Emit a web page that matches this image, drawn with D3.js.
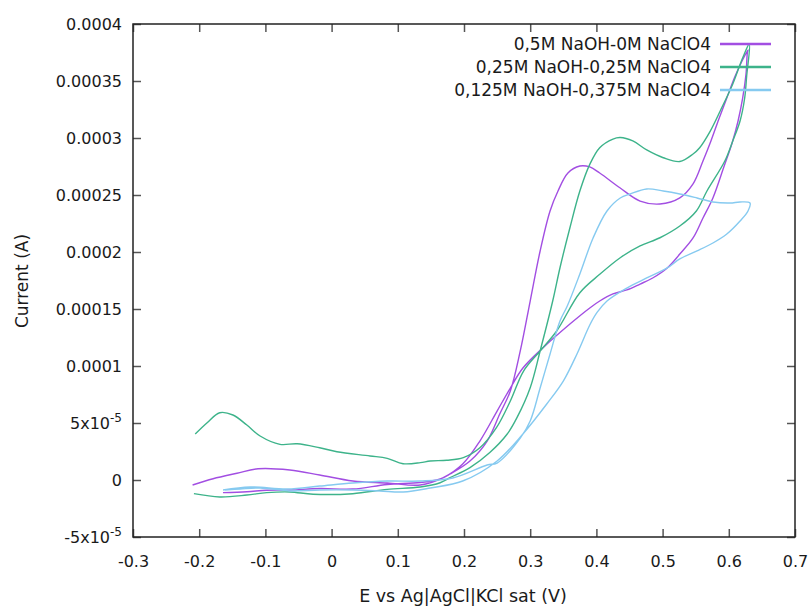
<!DOCTYPE html>
<html>
<head>
<meta charset="utf-8">
<script src="https://cdn.jsdelivr.net/npm/d3@7"></script>
<style>
  body { margin: 0; background: #fff; }
  text { font-family: "DejaVu Sans", sans-serif; fill: #1a1a1a; }
</style>
</head>
<body>
<div id="chart"></div>
<script>
  // series: E (V) and current (A)
  var seriesNames = ["0,5M NaOH-0M NaClO4", "0,25M NaOH-0,25M NaClO4", "0,125M NaOH-0,375M NaClO4"];
  var seriesColors = ["#a24ee2", "#3db38a", "#86caf0"];

  var e05 = [-0.164, -0.128, -0.098, -0.063, -0.018, 0.032, 0.084, 0.134, 0.164, 0.179, 0.209, 0.235, 0.254, 0.270, 0.285, 0.300, 0.315, 0.330, 0.342, 0.357, 0.375, 0.390, 0.405, 0.436, 0.466, 0.496, 0.526, 0.546, 0.561, 0.573, 0.585, 0.597, 0.609, 0.620, 0.629, 0.628, 0.626, 0.621, 0.614, 0.605, 0.593, 0.576, 0.561, 0.546, 0.526, 0.507, 0.485, 0.466, 0.446, 0.425, 0.405, 0.390, 0.360, 0.319, 0.289, 0.270, 0.250, 0.224, 0.198, 0.168, 0.134, 0.084, 0.032, -0.018, -0.063, -0.111, -0.143, -0.179, -0.210];
  var i05 = [-1.11e-5, -1.03e-5, -0.90e-5, -0.88e-5, -0.75e-5, -0.79e-5, -0.39e-5, -0.22e-5, 0.09e-5, 0.53e-5, 1.67e-5, 3.42e-5, 5.79e-5, 7.81e-5, 11.32e-5, 15.70e-5, 20.09e-5, 23.60e-5, 25.35e-5, 26.93e-5, 27.54e-5, 27.46e-5, 26.93e-5, 25.61e-5, 24.47e-5, 24.21e-5, 24.74e-5, 25.97e-5, 27.98e-5, 29.74e-5, 31.67e-5, 33.51e-5, 35.35e-5, 36.75e-5, 37.72e-5, 37.46e-5, 35.61e-5, 33.51e-5, 31.49e-5, 29.56e-5, 27.54e-5, 24.74e-5, 22.98e-5, 21.23e-5, 19.82e-5, 18.60e-5, 17.72e-5, 17.19e-5, 16.67e-5, 16.32e-5, 15.70e-5, 15.09e-5, 13.68e-5, 11.58e-5, 9.82e-5, 8.07e-5, 6.05e-5, 3.42e-5, 1.40e-5, 0.18e-5, -0.44e-5, -0.26e-5, -0.09e-5, 0.44e-5, 0.88e-5, 0.99e-5, 0.59e-5, 0.11e-5, -0.44e-5];

  var e025 = [-0.208, -0.169, -0.128, -0.098, -0.063, -0.028, 0.032, 0.084, 0.134, 0.164, 0.179, 0.209, 0.239, 0.265, 0.280, 0.300, 0.315, 0.334, 0.345, 0.360, 0.375, 0.390, 0.405, 0.425, 0.436, 0.455, 0.476, 0.501, 0.526, 0.546, 0.556, 0.572, 0.587, 0.606, 0.621, 0.631, 0.627, 0.624, 0.617, 0.606, 0.594, 0.567, 0.551, 0.526, 0.496, 0.466, 0.436, 0.405, 0.375, 0.340, 0.315, 0.290, 0.270, 0.249, 0.224, 0.199, 0.174, 0.149, 0.134, 0.108, 0.084, 0.058, 0.008, -0.018, -0.052, -0.078, -0.108, -0.128, -0.149, -0.169, -0.188, -0.206];
  var i025 = [-1.20e-5, -1.49e-5, -1.32e-5, -1.11e-5, -1.05e-5, -1.25e-5, -1.20e-5, -0.82e-5, -0.61e-5, -0.24e-5, 0.20e-5, 1.08e-5, 2.41e-5, 4.01e-5, 5.47e-5, 8.10e-5, 11.32e-5, 15.70e-5, 18.62e-5, 22.13e-5, 25.35e-5, 27.69e-5, 29.15e-5, 29.91e-5, 30.04e-5, 29.74e-5, 28.95e-5, 28.27e-5, 27.94e-5, 28.60e-5, 29.15e-5, 30.61e-5, 32.37e-5, 34.74e-5, 37.04e-5, 38.25e-5, 35.44e-5, 33.51e-5, 31.49e-5, 29.74e-5, 27.98e-5, 25.35e-5, 23.60e-5, 22.28e-5, 21.25e-5, 20.53e-5, 19.50e-5, 18.04e-5, 16.43e-5, 13.07e-5, 11.32e-5, 9.56e-5, 6.93e-5, 4.59e-5, 2.83e-5, 1.96e-5, 1.73e-5, 1.67e-5, 1.52e-5, 1.43e-5, 1.90e-5, 2.11e-5, 2.48e-5, 2.83e-5, 3.18e-5, 3.13e-5, 3.86e-5, 4.82e-5, 5.70e-5, 5.90e-5, 5.03e-5, 4.04e-5];

  var e0125 = [-0.164, -0.123, -0.067, -0.018, 0.032, 0.084, 0.134, 0.183, 0.235, 0.250, 0.285, 0.300, 0.315, 0.330, 0.345, 0.356, 0.375, 0.395, 0.416, 0.436, 0.451, 0.476, 0.501, 0.526, 0.552, 0.576, 0.602, 0.617, 0.632, 0.629, 0.617, 0.597, 0.576, 0.552, 0.526, 0.507, 0.476, 0.446, 0.416, 0.401, 0.390, 0.371, 0.350, 0.325, 0.289, 0.250, 0.198, 0.149, 0.108, 0.073, 0.032, -0.018, -0.063, -0.108, -0.138, -0.161];
  var i0125 = [-0.88e-5, -0.61e-5, -0.79e-5, -0.53e-5, -0.26e-5, -0.09e-5, -0.09e-5, 0.18e-5, 1.32e-5, 1.49e-5, 3.68e-5, 5.18e-5, 8.07e-5, 11.05e-5, 13.95e-5, 15.26e-5, 18.07e-5, 21.23e-5, 23.60e-5, 24.74e-5, 25.09e-5, 25.53e-5, 25.35e-5, 25.09e-5, 24.74e-5, 24.39e-5, 24.30e-5, 24.39e-5, 24.30e-5, 23.60e-5, 22.72e-5, 21.58e-5, 20.79e-5, 20.09e-5, 19.39e-5, 18.60e-5, 17.72e-5, 16.84e-5, 15.70e-5, 14.70e-5, 13.60e-5, 11.10e-5, 8.68e-5, 6.67e-5, 4.04e-5, 1.67e-5, -0.09e-5, -0.70e-5, -1.05e-5, -0.96e-5, -0.88e-5, -0.88e-5, -0.96e-5, -0.70e-5, -0.79e-5, -0.88e-5];

  var xTicks = [-0.3, -0.2, -0.1, 0, 0.1, 0.2, 0.3, 0.4, 0.5, 0.6, 0.7];
  var xTickLabels = ["-0.3", "-0.2", "-0.1", "0", "0.1", "0.2", "0.3", "0.4", "0.5", "0.6", "0.7"];
  var yTicks = [-5e-5, 0, 5e-5, 1e-4, 1.5e-4, 2e-4, 2.5e-4, 3e-4, 3.5e-4, 4e-4];
  var yTickLabels = ["-5x10^-5", "0", "5x10^-5", "0.0001", "0.00015", "0.0002", "0.00025", "0.0003", "0.00035", "0.0004"];

  var seriesE = [e05, e025, e0125];
  var seriesI = [i05, i025, i0125];

  var svgWidth = 808;
  var svgHeight = 606;
  var margin = { top: 24, right: 13, bottom: 69, left: 133 };
  var width = svgWidth - margin.left - margin.right;
  var height = svgHeight - margin.top - margin.bottom;

  var svg = d3.select("#chart")
    .append("svg")
    .attr("width", svgWidth)
    .attr("height", svgHeight);

  var chartGroup = svg.append("g")
    .attr("transform", `translate(${margin.left}, ${margin.top})`);

  var xScale = d3.scaleLinear().domain([-0.3, 0.7]).range([0, width]);
  var yScale = d3.scaleLinear().domain([-5e-5, 4e-4]).range([height, 0]);

  // axes, ticks pointing inward on all four sides
  var xAxis = d3.axisBottom(xScale).tickValues(xTicks).tickSize(-8).tickSizeOuter(0)
    .tickPadding(19).tickFormat((d, i) => xTickLabels[i]);
  var yAxis = d3.axisLeft(yScale).tickValues(yTicks).tickSize(-8).tickSizeOuter(0)
    .tickPadding(11).tickFormat((d, i) => yTickLabels[i]);

  var gx = chartGroup.append("g").attr("transform", `translate(0, ${height})`).call(xAxis);
  var gy = chartGroup.append("g").call(yAxis);
  var gt = chartGroup.append("g").call(d3.axisTop(xScale).tickValues(xTicks).tickSize(-8).tickSizeOuter(0).tickFormat(""));
  var gr = chartGroup.append("g").attr("transform", `translate(${width}, 0)`)
    .call(d3.axisRight(yScale).tickValues(yTicks).tickSize(-8).tickSizeOuter(0).tickFormat(""));

  [gx, gy, gt, gr].forEach(function(g) {
    g.select(".domain").remove();
    g.selectAll(".tick line").attr("stroke", "#555").attr("stroke-width", 1.5);
    g.selectAll(".tick text").attr("font-size", 16).attr("fill", "#1a1a1a")
      .attr("font-family", "DejaVu Sans, sans-serif");
  });

  // superscript exponents on the y labels
  gy.selectAll(".tick text").each(function(d, i) {
    var parts = yTickLabels[i].split("^");
    if (parts.length < 2) return;
    var t = d3.select(this).text(null);
    t.append("tspan").text(parts[0]);
    t.append("tspan").attr("font-size", 12).attr("dy", "-0.55em").text(parts[1]);
  });

  // border
  chartGroup.append("rect")
    .attr("width", width)
    .attr("height", height)
    .attr("fill", "none")
    .attr("stroke", "#222")
    .attr("stroke-width", 1.5);

  // curves
  var line = d3.line()
    .curve(d3.curveCatmullRom.alpha(0.5))
    .x(d => xScale(d[0]))
    .y(d => yScale(d[1]));

  seriesNames.forEach(function(name, k) {
    var pts = seriesE[k].map((e, j) => [e, seriesI[k][j]]);
    chartGroup.append("path")
      .datum(pts)
      .attr("d", line)
      .attr("fill", "none")
      .attr("stroke", seriesColors[k])
      .attr("stroke-width", 1.4)
      .attr("stroke-linejoin", "round");
  });

  // legend
  var legend = svg.append("g");
  seriesNames.forEach(function(name, k) {
    var ly = 44 + k * 23;
    legend.append("text")
      .attr("x", 711)
      .attr("y", ly)
      .attr("dy", "0.36em")
      .attr("text-anchor", "end")
      .attr("font-size", 17)
      .text(name);
    legend.append("line")
      .attr("x1", 720).attr("x2", 771)
      .attr("y1", ly).attr("y2", ly)
      .attr("stroke", seriesColors[k])
      .attr("stroke-width", 2.6);
  });

  // axis labels
  svg.append("text")
    .attr("transform", "translate(22, 281) rotate(-90)")
    .attr("text-anchor", "middle")
    .attr("dy", "0.36em")
    .attr("font-size", 17)
    .text("Current (A)");

  svg.append("text")
    .attr("x", 463)
    .attr("y", 596)
    .attr("dy", "0.36em")
    .attr("text-anchor", "middle")
    .attr("font-size", 17.5)
    .text("E vs Ag|AgCl|KCl sat (V)");
</script>
</body>
</html>
